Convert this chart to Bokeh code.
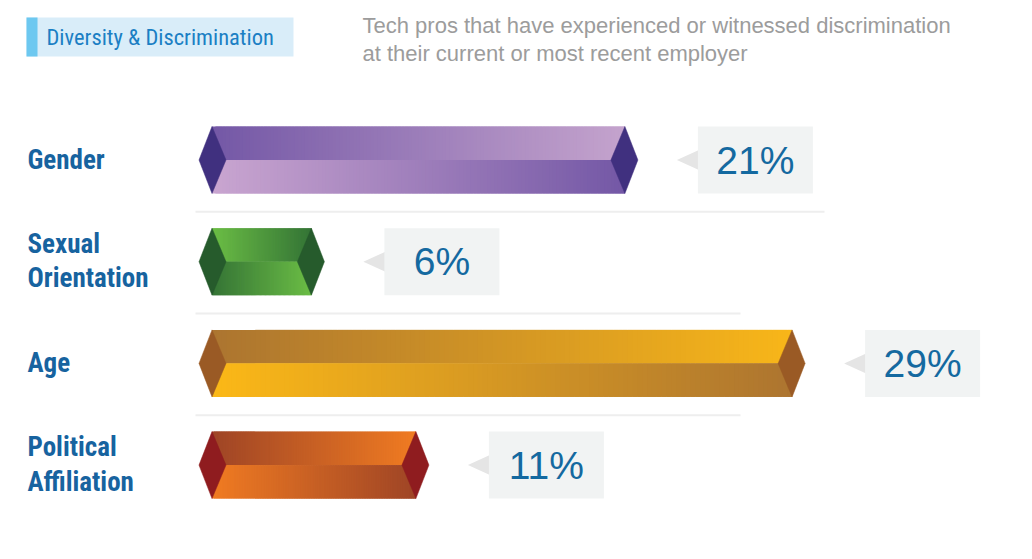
import numpy as np
from bokeh.plotting import figure
from bokeh.models import Range1d
from bokeh.core.properties import value
from bokeh.embed import file_html
from bokeh.resources import INLINE

# ---------------- data ----------------
categories = ["Gender", "Sexual\nOrientation", "Age", "Political\nAffiliation"]
values = [21, 6, 29, 11]
value_labels = ["21%", "6%", "29%", "11%"]
title_text = "Diversity & Discrimination"
subtitle_lines = ["Tech pros that have experienced or witnessed discrimination",
                  "at their current or most recent employer"]

# ---------------- styles ----------------
cap_colors = ["#40307f", "#265b2c", "#9a5a25", "#8f1c1f"]
top_left_colors = ["#7458a6", "#6bbd45", "#ac7530", "#9f4526"]
top_right_colors = ["#c4a3cd", "#347436", "#f8b619", "#f07b22"]
bot_left_colors = ["#c9a5d0", "#357436", "#fbb817", "#f07b22"]
bot_right_colors = ["#7458a6", "#6bbd45", "#ad7530", "#9f4526"]
sep_right_px = [824, 740, 740]

W, H = 1016, 543
PPU = 20.9          # pixels per percentage point
TIP = 198.5         # page x of value 0
ROW0, ROW_STEP, HALF = 159.5, 101.7, 33.5
CAP1, CAP2 = 13 / PPU, 27 / PPU
NARROW = "'Liberation Sans Narrow', 'Roboto Condensed', Roboto"
SANS = "'Liberation Sans', Arial, Helvetica"
BASE_FIX = 0.37     # em correction for rendered baseline


def X(px):
    return (px - TIP) / PPU


def BL(y, size):
    return y - BASE_FIX * size


def hex2rgb(h):
    h = h.lstrip("#")
    return np.array([int(h[i:i + 2], 16) for i in (0, 2, 4)], dtype=float)


def mix(c1, c2, n):
    a, b = hex2rgb(c1), hex2rgb(c2)
    out = []
    for t in np.linspace(0, 1, n):
        r, g, bb = (a + (b - a) * t).round().astype(int)
        out.append("#%02x%02x%02x" % (r, g, bb))
    return out


p = figure(width=W, height=H, x_range=Range1d(X(0), X(W)), y_range=Range1d(H, 0),
           x_axis_type=None, y_axis_type=None, output_backend="svg",
           toolbar_location=None, min_border=0)
p.grid.visible = False
p.outline_line_color = None
p.background_fill_color = "white"
p.border_fill_color = "white"

centers = [ROW0 + i * ROW_STEP for i in range(len(values))]

# separators
for i in range(len(values) - 1):
    y = (centers[i] + centers[i + 1]) / 2 + 1
    p.segment(x0=[X(195)], y0=[y], x1=[X(sep_right_px[i])], y1=[y],
              line_color="#eeeeee", line_width=2)

# header
p.quad(left=[X(26)], right=[X(293)], top=[17], bottom=[56], fill_color="#d9edf9", line_color=None)
p.quad(left=[X(26)], right=[X(37)], top=[17], bottom=[56], fill_color="#6dc8f0", line_color=None)
p.text(x=[X(46)], y=[BL(45, 22.5)], text=[title_text], text_font=value(NARROW), text_font_size="22.5px",
       text_color="#1b7fc4", text_baseline="alphabetic", text_align="left")
p.text(x=[X(362), X(362)], y=[BL(33, 22), BL(61, 22)], text=subtitle_lines, text_font=value(SANS),
       text_font_size="22px", text_color="#9c9c9c", text_baseline="alphabetic", text_align="left")

N = 120
for i, (v, c) in enumerate(zip(values, centers)):
    xa, xb = CAP1, v - CAP1
    edges = np.linspace(xa, xb, N + 1)
    step = edges[1] - edges[0]
    lefts = edges[:-1]
    rights = np.minimum(edges[1:] + step, xb)
    top_cols = mix(top_left_colors[i], top_right_colors[i], N)
    bot_cols = mix(bot_left_colors[i], bot_right_colors[i], N)
    p.quad(left=lefts, right=rights, top=[c - HALF] * N, bottom=[c] * N,
           fill_color=top_cols, line_color=None)
    p.quad(left=lefts, right=rights, top=[c] * N, bottom=[c + HALF] * N,
           fill_color=bot_cols, line_color=None)
    # caps
    p.patches(xs=[[0, CAP1, CAP2, CAP1], [v, v - CAP1, v - CAP2, v - CAP1]],
              ys=[[c, c - HALF, c, c + HALF], [c, c - HALF, c, c + HALF]],
              fill_color=cap_colors[i], line_color=cap_colors[i], line_width=0.5)
    # pointer + value box
    t0 = v + 39 / PPU
    t1 = v + 61 / PPU
    p.patch(x=[t0, t1, t1], y=[c, c - 10, c + 10], fill_color="#e5e5e5", line_color=None)
    bl, br = v + 60 / PPU, v + 175 / PPU
    p.quad(left=[bl], right=[br], top=[c - HALF], bottom=[c + HALF],
           fill_color="#f1f3f3", line_color=None)
    p.text(x=[(bl + br) / 2], y=[BL(c + 14.5, 39)], text=[value_labels[i]], text_font=value(SANS),
           text_font_size="39px", text_color="#1469a0", text_baseline="alphabetic",
           text_align="center")
    # category label
    lines = categories[i].split("\n")
    if len(lines) == 1:
        ys = [c + 9.5]
    else:
        ys = [c - 8, c + 26.5]
    p.text(x=[X(27)] * len(lines), y=[BL(y, 27) for y in ys], text=lines, text_font=value(NARROW),
           text_font_size="27px", text_font_style="bold", text_color="#17639f",
           text_baseline="alphabetic", text_align="left")

open("out.html", "w").write(file_html(p, INLINE))
